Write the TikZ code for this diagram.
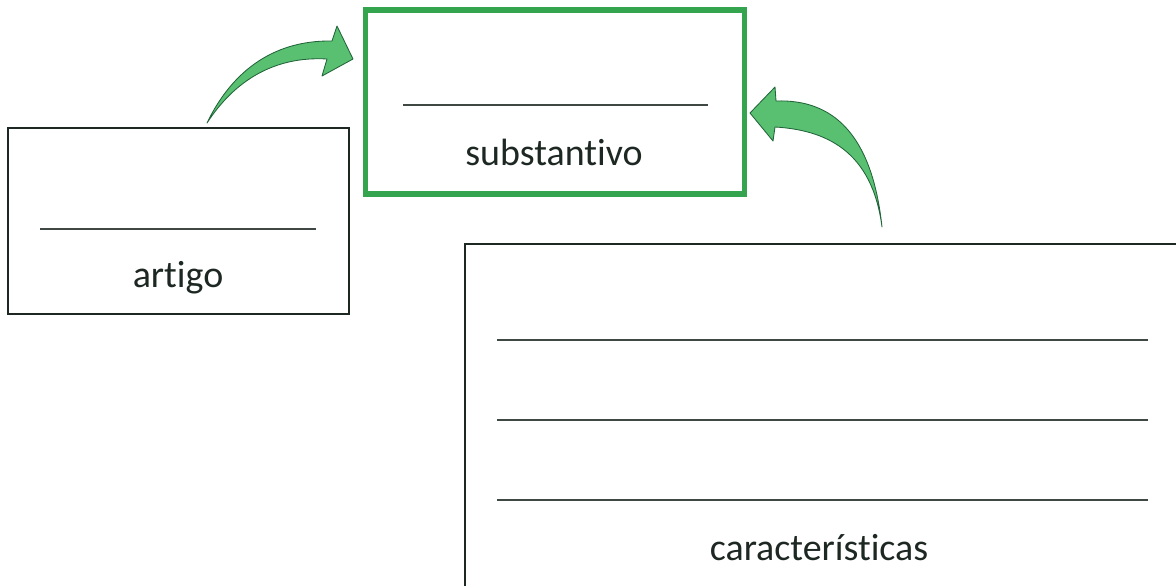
\documentclass[tikz,border=0pt]{standalone}
\usepackage{fontspec}
\setmainfont{Carlito}[Ligatures=NoCommon]
\usepackage{xcolor}
\usepackage{tikz}
\usetikzlibrary{positioning}
\definecolor{boxgreen}{RGB}{52,165,78}
\definecolor{arrowgreen}{RGB}{88,192,112}
\definecolor{arrowedge}{RGB}{34,100,58}
\definecolor{ink}{RGB}{30,40,34}

\begin{document}
\begin{tikzpicture}[x=0.025cm,y=-0.025cm,
    plain box/.style={rectangle,draw=ink,line width=1.3pt,inner sep=0pt},
    main box/.style={rectangle,draw=boxgreen,line width=3.6pt,inner sep=0pt},
    write line/.style={draw=ink!85,line width=0.9pt},
    word/.style={font=\fontsize{27}{31}\selectfont,text=ink,anchor=base},
    bend arrow/.style={fill=arrowgreen,draw=arrowedge,line width=0.6pt,line join=round}]
    \useasboundingbox (0,0) rectangle (1176,585);
    \clip (0,0) rectangle (1176,585);

    % boxes
    \node[plain box,minimum width=8.525cm,minimum height=4.65cm] (artigo) at (178.5,221) {};
    \node[main box,minimum width=9.45cm,minimum height=4.6cm] (subst) at (555,102) {};
    \node[plain box,minimum width=20cm,minimum height=11.4cm] (carac) at (865,472) {};

    % write-in lines
    \draw[write line] (40,229) -- (316,229);
    \draw[write line] (403,105) -- (708,105);
    \foreach \y in {340,420,500}
        \draw[write line] (497,\y) -- (1148,\y);

    \node[word] (artigo label) at (178,287) {artigo};
    \node[word] (subst label) at (554,165) {substantivo};
    \node[word] (carac label) at (819,560) {características};

    % curved arrows
    \coordinate (tail A) at (207,123);
    \coordinate (tip A) at (353,59);
    \path[bend arrow] (tail A) .. controls (230,75) and (270,40) .. (332,41) -- (337,26) -- (tip A)
        -- (322,76) -- (327,59) .. controls (275,56) and (235,80) .. (tail A) -- cycle;
    \coordinate (tail B) at (882,227);
    \coordinate (tip B) at (750,113);
    \path[bend arrow] (tail B) .. controls (872,150) and (825,130) .. (775,127) -- (773,141) -- (tip B)
        -- (775,87) -- (776,101) .. controls (832,99) and (872,133) .. (tail B) -- cycle;
\end{tikzpicture}
\end{document}
